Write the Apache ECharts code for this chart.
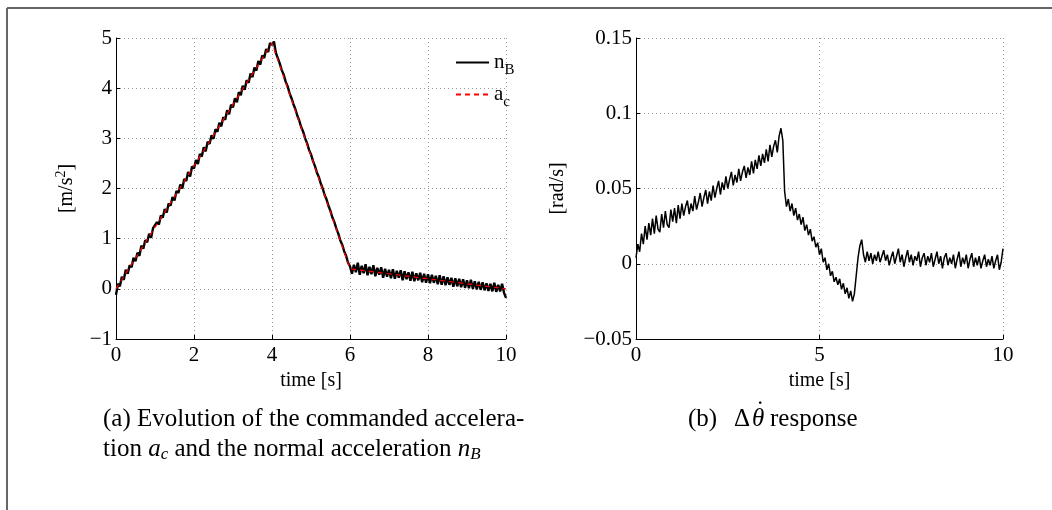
<!DOCTYPE html>
<html><head><meta charset="utf-8">
<script src="https://cdn.jsdelivr.net/npm/echarts@6/dist/echarts.min.js"></script>
<style>html,body{margin:0;padding:0;background:#fff}#c{width:1052px;height:510px}</style>
</head><body><div id="c"></div>
<script>
// ---- data ----
const sampleStep = 0.05; // s, sampling of the recorded signals
const leftXTicks = [0, 2, 4, 6, 8, 10];
const leftYTicks = [-1, 0, 1, 2, 3, 4, 5];
const rightXTicks = [0, 5, 10];
const rightYTicks = [-0.05, 0, 0.05, 0.1, 0.15];

// commanded acceleration a_c (piecewise linear command)
const acTime = [0, 4, 6, 10];
const acValues = [0, 4.9, 0.4, 0];

// measured normal acceleration n_B (sampled every 0.05 s)
const nBValues = [
-0.12,0.10,0.05,0.24,0.18,0.38,0.30,0.47,0.43,0.62,0.55,0.72,0.66,0.86,0.80,0.97,0.93,1.10,1.02,1.21,
1.18,1.33,1.28,1.46,1.42,1.59,1.52,1.70,1.66,1.83,1.76,1.95,1.91,2.08,2.00,2.19,2.15,2.33,2.24,2.44,
2.40,2.57,2.49,2.69,2.64,2.82,2.74,2.93,2.89,3.06,2.99,3.18,3.13,3.31,3.24,3.42,3.37,3.56,3.48,3.67,
3.62,3.80,3.72,3.92,3.86,4.05,3.97,4.16,4.11,4.29,4.22,4.41,4.35,4.54,4.47,4.65,4.60,4.78,4.72,4.90,
4.86,4.93,4.70,4.60,4.49,4.36,4.27,4.13,4.04,3.90,3.80,3.68,3.58,3.45,3.35,3.22,3.13,3.00,2.90,2.77,
2.68,2.55,2.45,2.32,2.23,2.10,2.00,1.87,1.78,1.65,1.55,1.42,1.33,1.20,1.10,0.97,0.88,0.75,0.66,0.52,
0.45,0.30,0.48,0.33,0.52,0.28,0.46,0.31,0.49,0.27,0.44,0.29,0.47,0.25,0.42,0.28,0.43,0.22,0.40,0.24,
0.38,0.21,0.39,0.20,0.36,0.22,0.37,0.17,0.35,0.19,0.33,0.16,0.34,0.15,0.31,0.17,0.32,0.13,0.30,0.12,
0.29,0.11,0.28,0.12,0.26,0.09,0.27,0.08,0.25,0.07,0.23,0.08,0.22,0.04,0.21,0.05,0.20,0.03,0.19,0.02,
0.17,0.01,0.18,0.00,0.15,-0.01,0.14,-0.02,0.13,-0.03,0.11,-0.04,0.10,-0.05,0.12,-0.06,0.08,-0.05,0.10,-0.08,
-0.18
];

// pitch-rate deviation Δθ̇ [rad/s] (sampled every 0.05 s)
const dThetaValues = [
0.004,0.013,0.008,0.020,0.013,0.025,0.016,0.027,0.019,0.030,0.020,0.032,0.023,0.021,0.033,0.024,0.035,0.026,0.024,0.036,
0.028,0.037,0.027,0.039,0.030,0.040,0.032,0.038,0.042,0.033,0.040,0.035,0.045,0.036,0.041,0.047,0.038,0.044,0.049,0.040,
0.048,0.042,0.052,0.044,0.050,0.055,0.046,0.054,0.049,0.058,0.050,0.056,0.061,0.052,0.059,0.054,0.063,0.055,0.061,0.065,
0.057,0.064,0.059,0.068,0.060,0.069,0.063,0.072,0.065,0.073,0.067,0.076,0.068,0.079,0.071,0.078,0.082,0.074,0.085,0.090,
0.082,0.048,0.038,0.043,0.035,0.040,0.032,0.037,0.029,0.033,0.026,0.031,0.022,0.026,0.019,0.023,0.015,0.018,0.011,0.014,
0.006,0.010,0.001,0.004,-0.004,0.000,-0.008,-0.005,-0.012,-0.009,-0.014,-0.010,-0.017,-0.013,-0.020,-0.016,-0.023,-0.018,-0.025,-0.020,
-0.008,0.004,0.012,0.016,0.006,0.001,0.008,0.002,0.007,0.000,0.006,0.002,0.008,0.001,0.005,0.009,0.002,0.006,-0.001,0.004,
0.008,0.000,0.005,0.010,0.001,0.006,-0.002,0.004,0.009,0.001,0.006,-0.001,0.005,0.002,0.008,-0.002,0.004,0.007,-0.001,0.005,
0.001,0.007,-0.002,0.003,0.008,0.000,0.005,-0.003,0.004,0.007,-0.001,0.004,0.000,0.006,-0.003,0.003,0.008,-0.002,0.004,0.000,
0.006,-0.003,0.003,0.007,-0.002,0.004,-0.001,0.005,-0.003,0.002,0.006,-0.002,0.003,-0.001,0.005,-0.003,0.002,0.006,-0.004,0.001,
0.010
];

// ---- build ----
const pairs = (vals) => vals.map((v, i) => [+(i * sampleStep).toFixed(2), v]);
const acPairs = acTime.map((t, i) => [t, acValues[i]]);
const FONT = 'Liberation Serif';
const minus = (s) => String(s).replace('-', '\u2212');

function xAx(idx, ticks) {
  return {
    type: 'value', gridIndex: idx, min: ticks[0], max: ticks[ticks.length - 1],
    interval: ticks[1] - ticks[0],
    name: 'time [s]', nameLocation: 'middle', nameGap: 31,
    nameTextStyle: { fontFamily: FONT, fontSize: 20, color: '#000' },
    axisLine: { onZero: false, lineStyle: { color: '#000', width: 1 } },
    axisTick: { inside: true, length: 4, lineStyle: { color: '#000' } },
    axisLabel: { fontFamily: FONT, fontSize: 21, color: '#000', margin: 6 },
    splitLine: { show: true, lineStyle: { type: [1, 3], color: '#999', width: 1 } }
  };
}
function yAx(idx, ticks, name, gap, fmt) {
  return {
    type: 'value', gridIndex: idx, min: ticks[0], max: ticks[ticks.length - 1],
    interval: +(ticks[1] - ticks[0]).toFixed(4),
    name: name, nameLocation: 'middle', nameGap: gap, nameRotate: 90,
    nameTextStyle: { fontFamily: FONT, fontSize: 20, color: '#000',
      rich: { sup: { fontFamily: FONT, fontSize: 14, padding: [0, 0, 12, 0], color: '#000' } } },
    axisLine: { show: true, lineStyle: { color: '#000', width: 1 } },
    axisTick: { inside: true, length: 4, lineStyle: { color: '#000' } },
    axisLabel: { fontFamily: FONT, fontSize: 21, color: '#000', margin: 4, formatter: fmt },
    splitLine: { show: true, lineStyle: { type: [1, 3], color: '#999', width: 1 } }
  };
}

const capFont = '25px "Liberation Serif"';
const chart = echarts.init(document.getElementById('c'), null, { renderer: 'canvas' });
chart.setOption({
  animation: false,
  backgroundColor: '#fff',
  grid: [
    { left: 116, top: 38, width: 390, height: 301 },
    { left: 636, top: 38, width: 367, height: 301 }
  ],
  xAxis: [xAx(0, leftXTicks), xAx(1, rightXTicks)],
  yAxis: [
    yAx(0, leftYTicks, '[m/s{sup|2}]', 36, (v) => minus(v)),
    yAx(1, rightYTicks, '[rad/s]', 68, (v) => minus(Math.round(v * 100) / 100))
  ],
  legend: {
    data: ['nB', 'ac'], orient: 'vertical', left: 450, top: 47,
    itemWidth: 33, itemHeight: 14, itemGap: 6, itemStyle: { opacity: 0 },
    textStyle: { fontFamily: FONT, fontSize: 21, color: '#000',
      rich: { sub: { fontFamily: FONT, fontSize: 15, padding: [16, 0, 0, 0], color: '#000' } } },
    formatter: (n) => n === 'nB' ? 'n{sub|B}' : 'a{sub|c}'
  },
  series: [
    { name: 'nB', type: 'line', xAxisIndex: 0, yAxisIndex: 0, data: pairs(nBValues),
      showSymbol: false, symbol: 'none', lineStyle: { color: '#000', width: 2.4 }, itemStyle: { color: '#000' } },
    { name: 'ac', type: 'line', xAxisIndex: 0, yAxisIndex: 0, data: acPairs,
      showSymbol: false, symbol: 'none', lineStyle: { color: '#ff0000', width: 1.2, type: [5, 4] }, itemStyle: { color: '#ff0000' } },
    { name: 'dtheta', type: 'line', xAxisIndex: 1, yAxisIndex: 1, data: pairs(dThetaValues),
      showSymbol: false, symbol: 'none', lineStyle: { color: '#000', width: 1.5 } }
  ],
  graphic: [
    { type: 'line', shape: { x1: 7, y1: 8, x2: 1052, y2: 8 }, style: { stroke: '#666', lineWidth: 2 } },
    { type: 'line', shape: { x1: 7, y1: 8, x2: 7, y2: 510 }, style: { stroke: '#666', lineWidth: 2 } },
    { type: 'text', left: 103, top: 407, style: { text: '(a) Evolution of the commanded accelera-',
      font: capFont, fill: '#000' } },
    { type: 'text', left: 103, top: 437, style: { text: 'tion {i|a}{s|c} and the normal acceleration {i|n}{s|B}',
      font: capFont, fill: '#000',
      rich: { i: { fontFamily: FONT, fontSize: 25, fontStyle: 'italic' },
              s: { fontFamily: FONT, fontSize: 17, fontStyle: 'italic', padding: [11, 0, 0, 0] } } } },
    { type: 'text', left: 688, top: 407, style: { text: '(b)', font: capFont, fill: '#000' } },
    { type: 'text', left: 734, top: 407, style: { text: '\u0394', font: capFont, fill: '#000' } },
    { type: 'text', left: 752, top: 407, style: { text: '\u03B8', font: 'italic ' + capFont, fill: '#000' } },
    { type: 'text', left: 756, top: 399, style: { text: '\u02D9', font: capFont, fill: '#000' } },
    { type: 'text', left: 770, top: 407, style: { text: 'response', font: capFont, fill: '#000' } }
  ]
});
</script></body></html>
